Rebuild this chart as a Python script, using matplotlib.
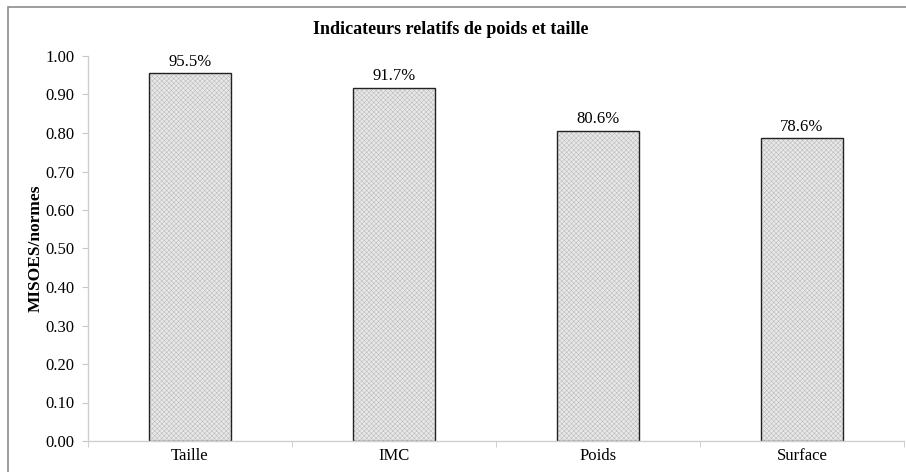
import matplotlib.pyplot as plt
import matplotlib.patches as mpatches

plt.rcParams['font.family'] = ['Liberation Serif', 'DejaVu Serif']
plt.rcParams['hatch.linewidth'] = 0.35

categories = ["Taille", "IMC", "Poids", "Surface"]
values = [0.955, 0.917, 0.806, 0.786]
labels = ["95.5%", "91.7%", "80.6%", "78.6%"]
yticks = [0.0, 0.1, 0.2, 0.3, 0.4, 0.5, 0.6, 0.7, 0.8, 0.9, 1.0]

fig = plt.figure(figsize=(9.06, 4.72), dpi=100)
ax = fig.add_axes([88 / 906, 31 / 472, 816 / 906, 385 / 472])

# outer chart border
fig.patches.append(mpatches.Rectangle((8 / 906, -0.01), 1.0, (465 / 472) + 0.01,
                                      transform=fig.transFigure, fill=False,
                                      edgecolor='#8c8c8c', linewidth=1.2))

x = [i + 0.5 for i in range(len(categories))]
# light dotted fill, then black outline on top
ax.bar(x, values, width=0.4, color='#e8e8e8', edgecolor='#b8b8b8',
       linewidth=0, hatch='xxxxxxx')
ax.bar(x, values, width=0.4, fill=False, edgecolor='#222222', linewidth=1.0)

for xi, v, lab in zip(x, values, labels):
    ax.text(xi, v + 0.03, lab, ha='center', va='center', fontsize=12)

ax.set_xlim(0, 4)
ax.set_ylim(0, 1.0)
ax.set_yticks(yticks)
ax.set_yticklabels([f"{t:.2f}" for t in yticks], fontsize=12)
ax.set_xticks(x)
ax.set_xticklabels(categories, fontsize=12)
ax.set_xticks([0, 1, 2, 3, 4], minor=True)
ax.tick_params(axis='x', which='major', length=0, pad=5)
ax.tick_params(axis='x', which='minor', length=4, color='#c8c8c8')
ax.tick_params(axis='y', length=4, color='#c8c8c8', pad=6)

for s in ['top', 'right']:
    ax.spines[s].set_visible(False)
for s in ['left', 'bottom']:
    ax.spines[s].set_color('#cfcfcf')
    ax.spines[s].set_linewidth(1.0)

ax.set_ylabel("MISOES/normes", fontsize=12.5, fontweight='bold', labelpad=1)
fig.text(451 / 906, 1 - 30 / 472, "Indicateurs relatifs de poids et taille",
         ha='center', va='center', fontsize=13, fontweight='bold')

fig.savefig("out.png", dpi=100)
